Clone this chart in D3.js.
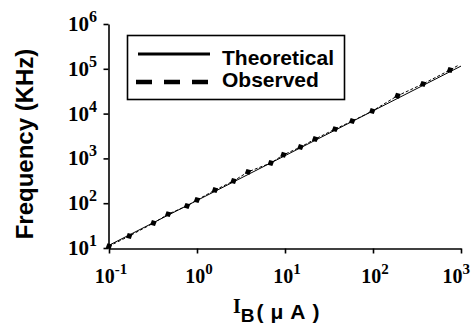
<!DOCTYPE html>
<html>
<head>
<meta charset="utf-8">
<script src="https://cdn.jsdelivr.net/npm/d3@7"></script>
<style>
  body { margin: 0; background: #fff; }
  svg { display: block; }
</style>
</head>
<body>
<div id="chart"></div>
<script>
// theoretical line end points (I in uA, f in KHz)
const theoI = [0.1, 1000];
const theoF = [11.5, 115000];

const obsI = [0.1, 0.17, 0.32, 0.47, 0.77, 1.0, 1.6, 2.6, 3.8, 6.9, 9.6, 15, 22, 37, 58, 98, 190, 370, 750, 920];
const obsF = [11, 18.5, 36, 57, 87, 118, 196, 313, 500, 790, 1200, 1790, 2700, 4500, 6800, 11400, 25000, 46000, 94000, 118000];

const xTicks = [0.1, 1, 10, 100, 1000];
const xExp = ["-1", "0", "1", "2", "3"];
const yTicks = [10, 100, 1000, 1e4, 1e5, 1e6];
const yExp = ["1", "2", "3", "4", "5", "6"];

const legendItems = ["Theoretical", "Observed"];

const width = 473, height = 326;

const svg = d3.select("#chart").append("svg")
  .attr("width", width)
  .attr("height", height);

const x = d3.scaleLog().domain([0.1, 1000]).range([109, 461]);
const y = d3.scaleLog().domain([10, 1e6]).range([248, 24]);

const serif = "'Liberation Serif', 'Times New Roman', serif";
const sans = "'Liberation Sans', Arial, sans-serif";

// axes
svg.append("g")
  .attr("transform", "translate(0,248.5)")
  .call(d3.axisBottom(x).tickValues(xTicks).tickFormat("").tickSize(5).tickSizeOuter(0));
svg.append("g")
  .attr("transform", "translate(108.5,0)")
  .call(d3.axisLeft(y).tickValues(yTicks).tickFormat("").tickSize(5).tickSizeOuter(0));
svg.selectAll(".domain, .tick line").attr("stroke", "#000").attr("stroke-width", 1.6);

// x tick labels: 10 with superscript (last one kept inside the frame)
xTicks.forEach((v, i) => {
  const last = i === xTicks.length - 1;
  const t = svg.append("text")
    .attr("x", last ? 470 : x(v) + 2)
    .attr("y", 283)
    .attr("text-anchor", last ? "end" : "middle")
    .style("font-family", serif)
    .style("font-weight", "bold")
    .style("font-size", "20px");
  t.append("tspan").text("10");
  t.append("tspan").attr("dy", -9).style("font-size", "15px").text(xExp[i]);
});

// y tick labels
yTicks.forEach((v, i) => {
  const t = svg.append("text")
    .attr("x", 97)
    .attr("y", y(v) + 7)
    .attr("text-anchor", "end")
    .style("font-family", serif)
    .style("font-weight", "bold")
    .style("font-size", "21px");
  t.append("tspan").text("10");
  t.append("tspan").attr("dy", -9).style("font-size", "16px").text(yExp[i]);
});

// axis titles
const xl = svg.append("text")
  .attr("x", 233)
  .attr("y", 313)
  .style("font-weight", "bold")
  .style("font-size", "20px");
xl.append("tspan").style("font-family", serif).text("I");
xl.append("tspan").attr("dy", 9).style("font-family", sans).style("font-size", "19px").text("B");
xl.append("tspan").attr("dy", -3).attr("dx", 2).style("font-family", sans)
  .style("font-size", "21px")
  .style("letter-spacing", "7px").text("(\u03bcA)");

svg.append("text")
  .attr("transform", "translate(33,144) rotate(-90)")
  .attr("text-anchor", "middle")
  .style("font-family", sans)
  .style("font-weight", "bold")
  .style("font-size", "24px")
  .text("Frequency (KHz)");

// theoretical line
const line = d3.line().x(d => x(d[0])).y(d => y(d[1]));
svg.append("path")
  .datum(d3.zip(theoI, theoF))
  .attr("fill", "none")
  .attr("stroke", "#000")
  .attr("stroke-width", 1)
  .attr("d", line);

// observed dashed line + markers
const obs = d3.zip(obsI, obsF);
svg.append("path")
  .datum(obs)
  .attr("fill", "none")
  .attr("stroke", "#000")
  .attr("stroke-width", 1)
  .attr("stroke-dasharray", "3,2")
  .attr("d", line);

svg.selectAll(".mk")
  .data(obs.slice(0, -1))
  .enter().append("path")
  .attr("class", "mk")
  .attr("d", d3.symbol().type(d3.symbolDiamond).size(16))
  .attr("fill", "#000")
  .attr("transform", d => `translate(${x(d[0])},${y(d[1])}) rotate(-27) scale(1.7,0.9)`);

// legend
const lg = svg.append("g");
lg.append("rect")
  .attr("x", 127.5).attr("y", 35.5)
  .attr("width", 217).attr("height", 64)
  .attr("fill", "#fff")
  .attr("stroke", "#000")
  .attr("stroke-width", 1.6);
lg.append("line")
  .attr("x1", 138).attr("x2", 210).attr("y1", 54).attr("y2", 54)
  .attr("stroke", "#000").attr("stroke-width", 3);
lg.append("line")
  .attr("x1", 136).attr("x2", 210).attr("y1", 82).attr("y2", 82)
  .attr("stroke", "#000").attr("stroke-width", 4.5)
  .attr("stroke-dasharray", "16,12");
lg.selectAll(".lt")
  .data(legendItems)
  .enter().append("text")
  .attr("x", 222)
  .attr("y", (d, i) => 65 + i * 22)
  .style("font-family", sans)
  .style("font-weight", "bold")
  .style("font-size", "21px")
  .text(d => d);
</script>
</body>
</html>
